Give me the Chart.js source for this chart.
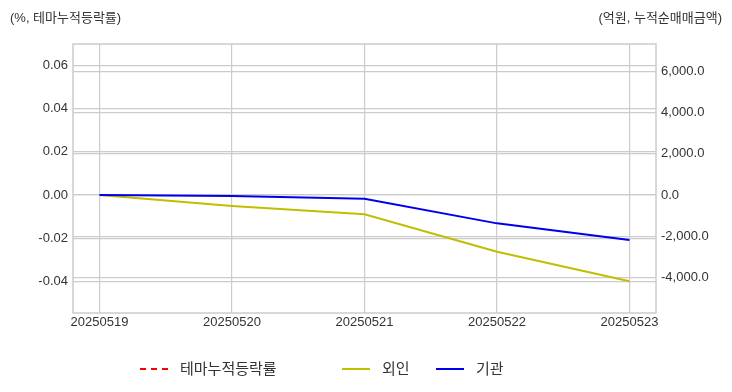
<!DOCTYPE html>
<html>
<head>
<meta charset="utf-8">
<script src="https://cdn.jsdelivr.net/npm/chart.js@4.4.1/dist/chart.umd.min.js"></script>
<style>
  html, body { margin: 0; padding: 0; background: #fff; }
  #wrap { position: relative; width: 732px; height: 392px; }
  .unit { position: absolute; top: 7px; font: 13px "Liberation Sans", "Noto Sans CJK KR", sans-serif; color: #333; }
  #unitLeft { left: 10px; }
  #unitRight { right: 10px; }
  .leg { position: absolute; top: 360px; height: 18px; font: 15px "Liberation Sans", "Noto Sans CJK KR", sans-serif; color: #333; line-height: 18px; }
  .leg .sw { position: absolute; left: 0; top: 8px; width: 28px; height: 0; border-top: 2px solid; }
  .leg .tx { position: absolute; left: 40px; top: 0; white-space: nowrap; }
</style>
</head>
<body>
<div id="wrap">
  <canvas id="chart" width="732" height="392"></canvas>
  <div class="unit" id="unitLeft">(%, 테마누적등락률)</div>
  <div class="unit" id="unitRight">(억원, 누적순매매금액)</div>
  <div id="legend"></div>
</div>
<script>
// dates on the x axis
const dates = ['20250519', '20250520', '20250521', '20250522', '20250523'];

// theme cumulative change (%), nothing plotted in the source
const themeRate = [null, null, null, null, null];
// cumulative net buying (100M won)
const foreignNet = [0, -535, -940, -2760, -4200];
const instNet = [0, -50, -180, -1380, -2190];

const leftTicks = [-0.04, -0.02, 0, 0.02, 0.04, 0.06];
const rightTicks = [-4000, -2000, 0, 2000, 4000, 6000];

const FONT = '"Liberation Sans", "Noto Sans CJK KR", sans-serif';
const GRID = '#cccccc';

const toPoints = arr => arr.map((v, i) => ({ x: i, y: v }));

// gray frame round the plot area
const framePlugin = {
    id: 'frame',
    afterDraw(chart) {
        const a = chart.chartArea;
        const ctx = chart.ctx;
        ctx.save();
        ctx.strokeStyle = GRID;
        ctx.lineWidth = 1.5;
        ctx.strokeRect(a.left, a.top, a.right - a.left, a.bottom - a.top);
        ctx.restore();
    }
};

const chart = new Chart(document.getElementById('chart'), {
    type: 'line',
    data: {
        datasets: [
            { label: '테마누적등락률', data: toPoints(themeRate), yAxisID: 'yL',
              borderColor: '#ff0000', borderDash: [5, 4], borderWidth: 2, order: 2 },
            { label: '외인', data: toPoints(foreignNet), yAxisID: 'yR',
              borderColor: '#bfbf00', borderWidth: 2, order: 1 },
            { label: '기관', data: toPoints(instNet), yAxisID: 'yR',
              borderColor: '#0000ee', borderWidth: 2, order: 0 }
        ]
    },
    options: {
        responsive: false,
        animation: false,
        elements: { point: { radius: 0 }, line: { tension: 0 } },
        layout: { padding: { top: 44, left: 0, right: 0, bottom: 45 } },
        plugins: {
            tooltip: { enabled: false },
            legend: { display: false }
        },
        scales: {
            x: {
                type: 'linear',
                min: -0.2,
                max: 4.2,
                afterBuildTicks: axis => { axis.ticks = dates.map((d, i) => ({ value: i })); },
                afterFit: axis => { axis.height = 34; },
                ticks: {
                    callback: v => dates[v],
                    color: '#333',
                    font: { family: FONT, size: 13 },
                    maxRotation: 0,
                    padding: 2
                },
                grid: { color: GRID, lineWidth: 1.2, drawTicks: false },
                border: { display: false }
            },
            yL: {
                position: 'left',
                min: -0.0546,
                max: 0.0699,
                afterBuildTicks: axis => { axis.ticks = leftTicks.map(v => ({ value: v })); },
                afterFit: axis => { axis.width = 73; },
                ticks: {
                    callback: v => v.toFixed(2),
                    color: '#333',
                    font: { family: FONT, size: 13 },
                    padding: 5
                },
                grid: { color: GRID, lineWidth: 1.2, drawTicks: false },
                border: { display: false }
            },
            yR: {
                position: 'right',
                min: -5742,
                max: 7348,
                afterBuildTicks: axis => { axis.ticks = rightTicks.map(v => ({ value: v })); },
                afterFit: axis => { axis.width = 76; },
                ticks: {
                    callback: v => v.toLocaleString('en-US', { minimumFractionDigits: 1, maximumFractionDigits: 1 }),
                    color: '#333',
                    font: { family: FONT, size: 13 },
                    padding: 5
                },
                grid: { color: GRID, lineWidth: 1.2, drawTicks: false },
                border: { display: false }
            }
        }
    },
    plugins: [framePlugin]
});

// legend built from the datasets, placed like the original
const legendX = [140, 342, 436];
const legend = document.getElementById('legend');
chart.data.datasets.forEach((ds, i) => {
    const item = document.createElement('div');
    item.className = 'leg';
    item.style.left = legendX[i] + 'px';
    const sw = document.createElement('div');
    sw.className = 'sw';
    sw.style.borderTopColor = ds.borderColor;
    if (ds.borderDash) sw.style.borderTopStyle = 'dashed';
    const tx = document.createElement('span');
    tx.className = 'tx';
    tx.textContent = ds.label;
    item.appendChild(sw);
    item.appendChild(tx);
    legend.appendChild(item);
});
</script>
</body>
</html>
